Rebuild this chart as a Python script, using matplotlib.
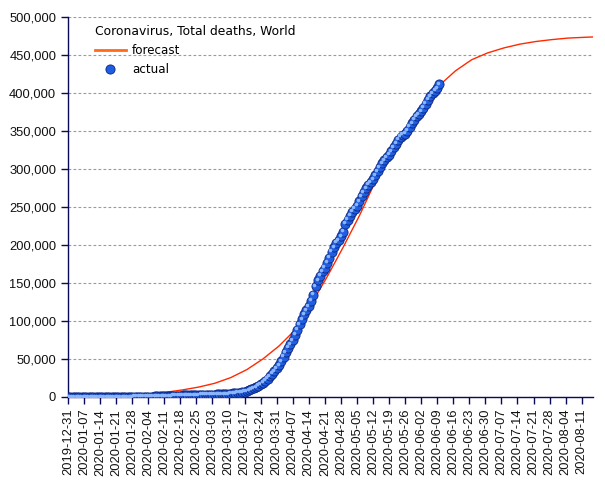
import numpy as np
import pandas as pd
import matplotlib
matplotlib.use("Agg")
import matplotlib.pyplot as plt
import matplotlib.dates as mdates
import matplotlib.ticker as mticker
from matplotlib.transforms import ScaledTranslation

# actual cumulative deaths, daily from 2019-12-31
actual = [0, 0, 0, 0, 0, 0, 0, 0, 0, 0, 0,
          1, 1, 1, 1, 1, 1, 2, 3, 3, 4, 6, 9,
          17, 18, 26, 42, 56, 82, 131, 133, 171, 213,
          259, 362, 426, 492, 564, 634, 719, 806, 906, 1013, 1113, 1118, 1371, 1523, 1666,
          1770, 1868, 2007, 2122, 2247, 2251, 2458, 2469, 2629, 2708, 2770, 2814, 2872, 2941,
          2996, 3085, 3160, 3254, 3348, 3460, 3558, 3802, 3988, 4262, 4615, 4720, 5404, 5819,
          6440, 7126, 7905, 8733, 9867, 11299, 12973, 14623, 16497, 18615, 21181, 23970,
          27198, 30652, 33925, 37582, 42107,
          46809, 52983, 58787, 64606, 69374, 74565, 81865, 88338, 95455, 102525, 108503,
          114091, 119482, 126557, 134539, 145453, 153822, 159509, 165044, 169986, 176583,
          183067, 190858, 197098, 202846, 206544, 211167, 217153, 227638, 233388,
          238650, 243808, 247470, 251537, 257239, 263831, 269567, 274898, 279311, 282709,
          286330, 291942, 297197, 302418, 307666, 311781, 315185, 318481, 323285, 328115,
          332924, 338160, 342070, 345059, 346232, 350453, 355629, 360308, 364867, 369126, 372035,
          375543, 380249, 385947, 391136, 395779, 399832, 402699, 406196, 411225]
actual_dates = pd.date_range("2019-12-31", periods=len(actual), freq="D")

# forecast
fc_dates = pd.to_datetime(["2020-01-22", "2020-01-29", "2020-02-05", "2020-02-12", "2020-02-19",
                           "2020-02-26", "2020-03-04", "2020-03-11", "2020-03-18", "2020-03-25",
                           "2020-04-01", "2020-04-08", "2020-04-15", "2020-04-22", "2020-04-29",
                           "2020-05-06", "2020-05-13", "2020-05-20", "2020-05-27", "2020-06-03",
                           "2020-06-10", "2020-06-17", "2020-06-24", "2020-07-01", "2020-07-08",
                           "2020-07-15", "2020-07-22", "2020-07-29", "2020-08-05", "2020-08-12",
                           "2020-08-16"])
forecast = [600, 1800, 3800, 6300, 9300,
            13000, 18000, 25500, 36000, 50000,
            67000, 88000, 122000, 158000, 197000,
            238000, 283000, 320000, 355000, 385000,
            410000, 429000, 443500, 452500, 459000,
            464000, 467500, 470000, 472000, 473000,
            473500]

tick_dates = pd.date_range("2019-12-31", "2020-08-11", freq="7D")

navy = "#0a0a5a"

fig = plt.figure(figsize=(6.05, 4.8), dpi=100)
ax = fig.add_axes([0.1124, 0.173, 0.868, 0.792])

ax.plot(fc_dates, forecast, color="#ff2a00", linewidth=1.0, label="forecast", zorder=3)
ax.plot(actual_dates, actual, linestyle="none", marker="o", markersize=6.6,
        markerfacecolor="#1f5ee0", markeredgecolor="#0a2480", markeredgewidth=0.6,
        label="actual", zorder=4)
# small highlight for the sphere look
hl = ax.transData + ScaledTranslation(-1.0 / 72, 1.0 / 72, fig.dpi_scale_trans)
ax.plot(actual_dates, actual, linestyle="none", marker="o", markersize=2.6,
        markerfacecolor="#8ab6ff", markeredgewidth=0, transform=hl, zorder=5)

ax.set_xlim(pd.Timestamp("2019-12-31"), pd.Timestamp("2020-08-16"))
ax.set_ylim(0, 500000)
ax.set_yticks(np.arange(0, 500001, 50000))
ax.yaxis.set_major_formatter(mticker.FuncFormatter(lambda v, p: f"{int(v):,}"))
ax.set_xticks(tick_dates)
ax.xaxis.set_major_formatter(mdates.DateFormatter("%Y-%m-%d"))

for lab in ax.get_xticklabels():
    lab.set_rotation(90)
ax.tick_params(axis="both", colors=navy, labelcolor="#111111", length=5, width=1,
               labelsize=9.3, direction="out")
for lab in ax.get_xticklabels() + ax.get_yticklabels():
    lab.set_fontfamily("Liberation Sans")

ax.grid(axis="y", color="#9a9a9a", linestyle=(0, (2.5, 2)), linewidth=0.8)
ax.grid(axis="x", visible=False)
ax.set_axisbelow(True)
for s in ["top", "right"]:
    ax.spines[s].set_visible(False)
for s in ["left", "bottom"]:
    ax.spines[s].set_color(navy)
    ax.spines[s].set_linewidth(1)

leg = ax.legend(loc="upper left", bbox_to_anchor=(0.042, 0.99), frameon=False,
                title="Coronavirus, Total deaths, World", fontsize=8.6,
                title_fontsize=8.9, handlelength=2.6, handletextpad=0.5,
                labelspacing=0.5, borderaxespad=0)
leg._legend_box.align = "left"
leg.get_lines()[0].set_color("#ff6a1a")
leg.get_lines()[0].set_linewidth(2)

fig.savefig("out.png", dpi=100)
